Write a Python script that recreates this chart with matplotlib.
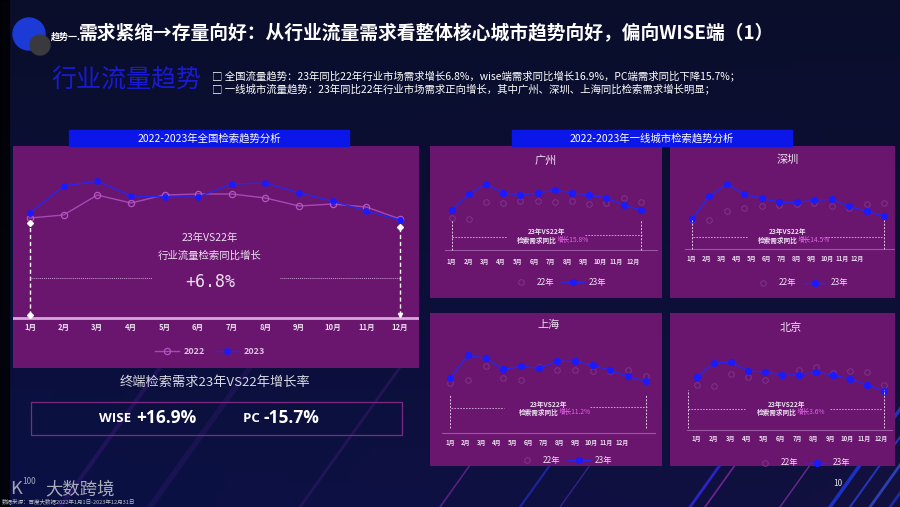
import numpy as np
import matplotlib.pyplot as plt
from matplotlib.patches import Rectangle, Circle

plt.rcParams['font.family'] = ['Noto Sans CJK SC', 'DejaVu Sans']

# ---- data (search index) ----
months = [f'{m}月' for m in range(1, 13)]
nat_2022 = [100, 103, 123, 115, 123, 124, 124, 120, 112, 114, 111, 99]
nat_2023 = [105, 132, 137, 122, 121, 121, 134, 135, 125, 117, 107, 98]

cities = ['广州', '深圳', '上海', '北京']
gz_2022 = [32, 31, 48, 47, 49, 49, 48, 49, 46, 47, 52, 48]
gz_2023 = [40, 56, 66, 57, 55, 57, 60, 57, 55, 52, 45, 40]
sz_2022 = [29, 29, 38, 41, 43, 44, 45, 46, 43, 41, 45, 46]
sz_2023 = [30, 53, 65, 55, 51, 47, 47, 49, 50, 43, 38, 33]
sh_2022 = [50, 53, 67, 55, 53, 66, 63, 63, 62, 62, 63, 57]
sh_2023 = [55, 78, 75, 64, 67, 65, 72, 72, 68, 63, 57, 52]
bj_2022 = [45, 44, 56, 53, 50, 55, 60, 63, 57, 59, 58, 45]
bj_2023 = [53, 67, 68, 59, 58, 55, 55, 58, 55, 51, 45, 39]
city_growth = ['15.8%', '14.5%', '11.2%', '3.6%']

nat_growth = '+6.8%'
wise_growth = '+16.9%'
pc_growth = '-15.7%'

# ---- styles ----
W, H = 900, 507
NAVY = '#0b0f2e'
PANEL = '#6a156e'
BAR = '#0b16e8'
BLUE = '#2626ee'
BLUE_M = '#1a1aff'
PINK = '#a848b4'
FAINT = '#80358a'
LIGHT = '#ebe0ef'
MAGENTA = '#e566e8'

fig = plt.figure(figsize=(9, 5.07), dpi=100, facecolor=NAVY)


def px_axes(x0, y0, x1, y1, **kw):
    return fig.add_axes([x0 / W, 1 - y1 / H, (x1 - x0) / W, (y1 - y0) / H], **kw)


def clean(ax):
    ax.set_xticks([])
    ax.set_yticks([])
    for s in ax.spines.values():
        s.set_visible(False)


# background with a few diagonal streaks
bg = px_axes(0, 0, W, H, zorder=0)
bg.set_xlim(0, W)
bg.set_ylim(H, 0)
bg.axis('off')
gy, gx = np.mgrid[0:1:60j, 0:1:100j]
grad = np.zeros((60, 100, 3))
grad[..., 0] = 0.040 + 0.03 * gy * gx
grad[..., 1] = 0.055 + 0.01 * gy
grad[..., 2] = 0.17 + 0.10 * gy * (1 - gx) + 0.08 * gy * gx
bg.imshow(grad, extent=[0, W, H, 0], aspect='auto', zorder=0)
bg.add_patch(Rectangle((0, 0), 9, H, color='black', alpha=0.8, zorder=1))
streaks = [(690, 120, '#3a2aff', 2, 0.7), (705, 100, '#b030d0', 1.2, 0.6),
           (780, 90, '#c040e0', 1, 0.5), (830, 200, '#2040ff', 2.5, 0.7),
           (850, 220, '#3050ff', 1.5, 0.6), (870, 250, '#4060ff', 2, 0.6),
           (890, 300, '#2a3ae0', 2, 0.6), (440, 80, '#a030c0', 1.2, 0.5),
           (520, 80, '#2a3aff', 1.5, 0.5), (560, 90, '#6030d0', 1, 0.5),
           (60, 200, '#4a1a8a', 3, 0.35), (150, 260, '#3a1a7a', 4, 0.3),
           (300, 200, '#5a2090', 2, 0.3)]
for sx, ln, c, lw, a in streaks:
    bg.plot([sx, sx + ln * 0.58], [H, H - ln * 0.81], color=c, lw=lw, alpha=a, zorder=2)

# overlay for text and frames, in pixel coordinates
ov = px_axes(0, 0, W, H, zorder=10)
ov.set_xlim(0, W)
ov.set_ylim(H, 0)
ov.axis('off')
ov.patch.set_visible(False)

# ---- header ----
ov.add_patch(Circle((29, 34), 16, color='#1c3ad6'))
ov.add_patch(Circle((40, 45), 10, color='#3a3a3e'))
ov.text(51, 37, '趋势一.', fontsize=6.5, color='white', weight='bold', va='center')
ov.text(79, 34, '需求紧缩→存量向好：从行业流量需求看整体核心城市趋势向好，偏向WISE端（1）',
        fontsize=13.5, color='white', weight='bold', va='center')
ov.text(51, 80, '行业流量趋势', fontsize=18, color='#1a1ad2', va='center')
ov.text(212, 76, '□ 全国流量趋势：23年同比22年行业市场需求增长6.8%，wise端需求同比增长16.9%，PC端需求同比下降15.7%；',
        fontsize=7.5, color='white', va='center')
ov.text(212, 89, '□ 一线城市流量趋势：23年同比22年行业市场需求正向增长，其中广州、深圳、上海同比检索需求增长明显；',
        fontsize=7.5, color='white', va='center')

# title bars
for bx, label in [(69, '2022-2023年全国检索趋势分析'), (512, '2022-2023年一线城市检索趋势分析')]:
    ov.add_patch(Rectangle((bx, 130), 280, 16, color=BAR))
    ov.text(bx + 140, 138, label, fontsize=7.5, color='white', ha='center', va='center')

# ---- national panel ----
x = np.arange(1, 13)
ax = px_axes(13, 146, 419, 368, zorder=2)
ax.set_facecolor(PANEL)
clean(ax)
step = (400 - 30) / 11
ax.set_xlim(1 - (30 - 13) / step, 12 + (419 - 400) / step)
ax.set_ylim(-(368 - 318), 318 - 146)
ax.axhline(0, color='#d7a7dc', lw=2)
ax.plot(x, nat_2022, color=PINK, lw=1, marker='o', ms=4.5, mfc='none', mec='#b555c2',
        mew=0.9, label='2022')
ax.plot(x, nat_2023, color=BLUE, lw=1, marker='o', ms=3.8, mfc=BLUE_M, mec=BLUE_M, label='2023')
for xi, m in zip(x, months):
    ax.text(xi, -9, m, fontsize=5.5, color=LIGHT, weight='bold', ha='center', va='center')
for xv, top, mk in [(1, min(nat_2022[0], nat_2023[0]) - 5, 'D'),
                    (12, min(nat_2022[-1], nat_2023[-1]) - 7, 'v')]:
    ax.plot([xv, xv], [3, top], color='white', lw=1, ls=(0, (3, 2)))
    ax.plot([xv], [top], marker='D', ms=3, color='white')
    ax.plot([xv], [3], marker=mk, ms=3, color='white')
ax.plot([1, 4.62], [40, 40], color='#c99bd0', lw=0.7, ls=(0, (1, 1)))
ax.plot([8.43, 12], [40, 40], color='#c99bd0', lw=0.7, ls=(0, (1, 1)))
leg = ax.legend(loc='center', bbox_to_anchor=((210 - 13) / 406, (368 - 352) / 222), ncol=2,
                frameon=False, fontsize=6.5, handlelength=2.6, columnspacing=1.2,
                handletextpad=0.5)
for t in leg.get_texts():
    t.set_color('#d8c4de')
    t.set_weight('bold')
ov.text(210, 238, '23年VS22年', fontsize=7.5, color=LIGHT, ha='center', va='center')
ov.text(210, 256, '行业流量检索同比增长', fontsize=7.5, color=LIGHT, ha='center', va='center')
ov.text(210, 282, nat_growth, fontsize=12, color=LIGHT, ha='center', va='center',
        family='DejaVu Sans Mono')

# terminal growth box
ov.text(215, 382, '终端检索需求23年VS22年增长率', fontsize=9.5, color='#d8d8e2', ha='center', va='center')
ov.add_patch(Rectangle((30.5, 401.5), 371, 33.5, fill=False, ec='#7e2a84', lw=0.9))
ov.text(135, 419, 'WISE ', fontsize=9.5, color='white', weight='bold', ha='right', va='center',
        family=['Open Sans', 'DejaVu Sans'])
ov.text(136, 418, wise_growth, fontsize=12.5, color='white', weight='bold', ha='left', va='center',
        family=['Open Sans', 'DejaVu Sans'])
ov.text(263, 419, 'PC ', fontsize=9.5, color='white', weight='bold', ha='right', va='center',
        family=['Open Sans', 'DejaVu Sans'])
ov.text(264, 418, pc_growth, fontsize=12.5, color='white', weight='bold', ha='left', va='center',
        family=['Open Sans', 'DejaVu Sans'])

# ---- city panels ----
layouts = [
    dict(rect=(430, 146, 662, 298), first=451.7, last=640.7, base=250, lab_ratio=0.959,
         lab_off=-11.7, vspan=(0, 30), vx=(1, 12), base_x=(445, 657), leg=(558, 282),
         title=(545.7, 160.7), cx=546.7, ty=231.7,
         hl=[(451.7, 506.7, 236.7), (585, 641.7, 235)]),
    dict(rect=(670, 146, 895, 298), first=691.7, last=884.3, base=249.3, lab_ratio=0.857,
         lab_off=-9.7, vspan=(0, 29), vx=(1, 12), base_x=(685, 895), leg=(800, 283),
         title=(787.7, 159.3), cx=787.7, ty=231.7,
         hl=[(693, 746.7, 236.7), (825, 881.7, 236.7)]),
    dict(rect=(430, 313, 662, 466), first=450, last=646, base=433.3, lab_ratio=0.877,
         lab_off=-8.7, vspan=(5, 39), vx=(1, 12), base_x=(442, 655), leg=(564, 460),
         title=(548.3, 325), cx=548.3, ty=404,
         hl=[(451, 504.3, 407.7), (590, 646.7, 407.3)]),
    dict(rect=(670, 313, 895, 466), first=696.7, last=884, base=430, lab_ratio=0.984,
         lab_off=-8.3, vspan=(2, 40), vx=(0.5, 12), base_x=(687, 892), leg=(802, 463),
         title=(791, 327.3), cx=786.7, ty=404,
         hl=[(688, 745, 409), (830, 881.7, 408.7)]),
]
city_22 = [gz_2022, sz_2022, sh_2022, bj_2022]
city_23 = [gz_2023, sz_2023, sh_2023, bj_2023]

for name, v22, v23, growth, lay in zip(cities, city_22, city_23, city_growth, layouts):
    x0, y0, x1, y1 = lay['rect']
    cax = px_axes(x0, y0, x1, y1, zorder=2)
    cax.set_facecolor(PANEL)
    clean(cax)
    st = (lay['last'] - lay['first']) / 11
    cax.set_xlim(1 - (lay['first'] - x0) / st, 12 + (x1 - lay['last']) / st)
    cax.set_ylim(-(y1 - lay['base']), lay['base'] - y0)
    bx0, bx1 = lay['base_x']
    cax.axhline(0, xmin=(bx0 - x0) / (x1 - x0), xmax=(bx1 - x0) / (x1 - x0),
                color='#9a58a2', lw=0.8)
    cax.plot(x, v22, ls='none', marker='o', ms=4, mfc='none', mec=FAINT, mew=0.7, label='22年')
    cax.plot(x, v23, color=BLUE, lw=1, marker='o', ms=4.2, mfc=BLUE_M, mec=BLUE_M, label='23年')
    lab_x = 1 + np.arange(12) * lay['lab_ratio']
    for xi, m in zip(lab_x, months):
        cax.text(xi, lay['lab_off'], m, fontsize=4.3, color=LIGHT, weight='bold',
                 ha='center', va='center')
    for xv in lay['vx']:
        cax.plot([xv, xv], lay['vspan'], color='#e0c8e4', lw=0.7, ls=(0, (2, 1.5)))
    cleg = cax.legend(loc='center', bbox_to_anchor=((lay['leg'][0] - x0) / (x1 - x0),
                                                    (y1 - lay['leg'][1]) / (y1 - y0)),
                      ncol=2, frameon=False, fontsize=6, handlelength=2.8,
                      columnspacing=0.8, handletextpad=0.5)
    for t in cleg.get_texts():
        t.set_color(LIGHT)
    ov.text(*lay['title'], name, fontsize=8, color=LIGHT, ha='center', va='center')
    ov.text(lay['cx'], lay['ty'], '23年VS22年', fontsize=4.8, color=LIGHT, weight='bold',
            ha='center', va='center')
    split = lay['cx'] + 10
    ov.text(split, lay['ty'] + 8.3, '检索需求同比', fontsize=4.8, color=LIGHT, weight='bold',
            ha='right', va='center')
    ov.text(split, lay['ty'] + 8.3, '增长' + growth, fontsize=4.8, color=MAGENTA,
            ha='left', va='center')
    for hx0, hx1, hy in lay['hl']:
        ov.plot([hx0, hx1], [hy, hy], color='#d4b4dc', lw=0.6, ls=(0, (2, 1.5)))

# ---- footer ----
ov.text(10, 489, 'K', fontsize=13, color='#c8c8d2', va='center', alpha=0.8)
ov.text(22, 482, '100', fontsize=6, color='#c8c8d2', va='center', alpha=0.8)
ov.text(45, 489, '大数跨境', fontsize=12.5, color='#c8c8d2', va='center', alpha=0.85)
ov.text(2, 501, '数据来源：百度大数据2022年1月1日-2023年12月31日', fontsize=4,
        color='#c0c0c8', va='center')
ov.text(838, 483, '10', fontsize=6, color='#e0e0e8', ha='center', va='center')

fig.savefig('out.png', dpi=100, facecolor=NAVY)
